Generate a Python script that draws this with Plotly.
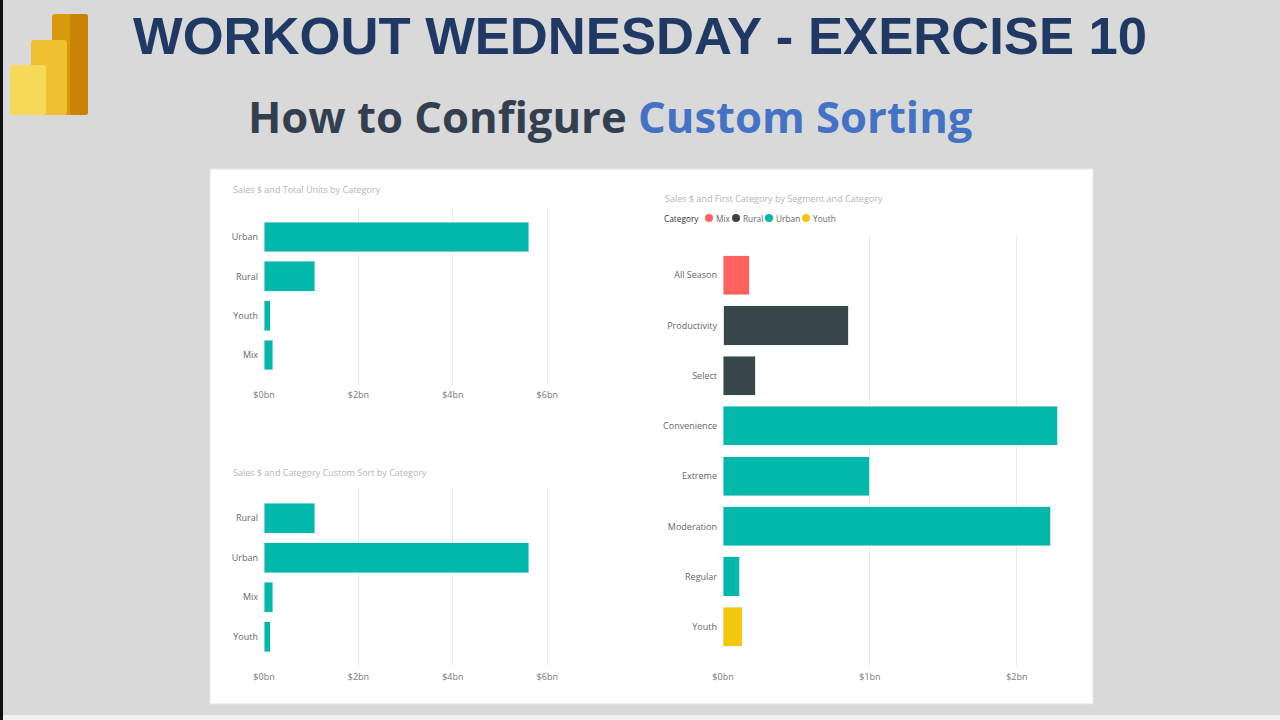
import plotly.graph_objects as go

# ---------------- data ----------------
cats_top = ["Urban", "Rural", "Youth", "Mix"]
sales_top = [5.61e9, 1.08e9, 0.13e9, 0.19e9]

cats_bottom = ["Rural", "Urban", "Mix", "Youth"]
sales_bottom = [1.08e9, 5.61e9, 0.19e9, 0.13e9]

segments = ["All Season", "Productivity", "Select", "Convenience",
            "Extreme", "Moderation", "Regular", "Youth"]
seg_mix = [0.177e9, 0.004e9, 0, 0, 0, 0, 0, 0]
seg_rural = [0, 0.853e9, 0.224e9, 0, 0, 0, 0, 0]
seg_urban = [0, 0, 0, 2.28e9, 1.00e9, 2.23e9, 0.115e9, 0]
seg_youth = [0, 0, 0, 0, 0, 0, 0, 0.13e9]

left_ticks = [0, 2e9, 4e9, 6e9]
left_ticktext = ["$0bn", "$2bn", "$4bn", "$6bn"]
right_ticks = [0, 1e9, 2e9]
right_ticktext = ["$0bn", "$1bn", "$2bn"]

legend_names = ["Mix", "Rural", "Urban", "Youth"]

# ---------------- style ----------------
W, H = 1280, 720
TEAL = "#01B8AA"
DARK = "#374649"
RED = "#FD625E"
YELLOW = "#F2C80F"
series_colors = [RED, DARK, TEAL, YELLOW]
BG = "#D9D9D9"
FONT = "Open Sans"
GRID = "#EBEBEB"


def px(x):
    return x / W


def py(y):
    return 1 - y / H


fig = go.Figure()

# top-left chart
fig.add_trace(go.Bar(y=cats_top, x=sales_top, orientation="h", marker_color=TEAL,
                     width=0.76, xaxis="x", yaxis="y", showlegend=False))
# bottom-left chart
fig.add_trace(go.Bar(y=cats_bottom, x=sales_bottom, orientation="h", marker_color=TEAL,
                     width=0.76, xaxis="x2", yaxis="y2", showlegend=False))
# right stacked chart
for name, vals, col in zip(legend_names, [seg_mix, seg_rural, seg_urban, seg_youth], series_colors):
    fig.add_trace(go.Bar(y=segments, x=vals, orientation="h", marker_color=col, name=name,
                         width=0.78, xaxis="x3", yaxis="y3", showlegend=False))

tickfont = dict(family=FONT, size=9, color="#777777")

xcommon = dict(showgrid=True, gridcolor=GRID, gridwidth=1, zeroline=False, showline=False,
               ticks="", tickfont=tickfont, fixedrange=True, automargin=False,
               ticklabelstandoff=3)
ycommon = dict(showgrid=False, zeroline=False, showline=False, ticks="", type="category",
               tickfont=dict(family=FONT, size=9, color="#666666"), ticklabelstandoff=5,
               automargin=False, fixedrange=True)

fig.update_layout(
    width=W, height=H,
    margin=dict(l=0, r=0, t=0, b=0, pad=0, autoexpand=False),
    paper_bgcolor=BG, plot_bgcolor="rgba(0,0,0,0)",
    barmode="stack",
    showlegend=False,
    xaxis=dict(xcommon, domain=[px(264), px(560)], range=[0, 6.27e9],
               tickvals=left_ticks, ticktext=left_ticktext, anchor="y"),
    yaxis=dict(ycommon, domain=[py(385), py(207)], range=[3.765, -0.765],
               categoryorder="array", categoryarray=cats_top, anchor="x"),
    xaxis2=dict(xcommon, domain=[px(264), px(560)], range=[0, 6.27e9],
                tickvals=left_ticks, ticktext=left_ticktext, anchor="y2"),
    yaxis2=dict(ycommon, domain=[py(667), py(488)], range=[3.765, -0.765],
                categoryorder="array", categoryarray=cats_bottom, anchor="x2"),
    xaxis3=dict(xcommon, domain=[px(723), px(1080)], range=[0, 2.43e9],
                tickvals=right_ticks, ticktext=right_ticktext, anchor="y3"),
    yaxis3=dict(ycommon, domain=[py(667), py(235)], range=[7.8, -0.8],
                categoryorder="array", categoryarray=segments, anchor="x3"),
)

shapes = []
# left dark border strip
shapes.append(dict(type="rect", xref="paper", yref="paper", x0=0, x1=px(3), y0=0, y1=1,
                   fillcolor="#111111", line_width=0, layer="below"))
# bottom light line
shapes.append(dict(type="rect", xref="paper", yref="paper", x0=px(3), x1=1, y0=py(720), y1=py(715),
                   fillcolor="#F2F2F2", line_width=0, layer="below"))
# white report panel
shapes.append(dict(type="rect", xref="paper", yref="paper", x0=px(210), x1=px(1093),
                   y0=py(704), y1=py(169), fillcolor="white", line=dict(color="#E6E6E6", width=1),
                   layer="below"))


# Power BI logo bars
def rounded(x0, y0, x1, y1, r=3):
    return (f"M{px(x0 + r)},{py(y0)} L{px(x1 - r)},{py(y0)} Q{px(x1)},{py(y0)} {px(x1)},{py(y0 + r)} "
            f"L{px(x1)},{py(y1 - r)} Q{px(x1)},{py(y1)} {px(x1 - r)},{py(y1)} "
            f"L{px(x0 + r)},{py(y1)} Q{px(x0)},{py(y1)} {px(x0)},{py(y1 - r)} "
            f"L{px(x0)},{py(y0 + r)} Q{px(x0)},{py(y0)} {px(x0 + r)},{py(y0)} Z")


shapes.append(dict(type="path", xref="paper", yref="paper", path=rounded(52, 14, 88, 115),
                   fillcolor="#D89A0C", line_width=0))
shapes.append(dict(type="path", xref="paper", yref="paper", path=rounded(70, 14, 88, 115),
                   fillcolor="#C98306", line_width=0))
shapes.append(dict(type="path", xref="paper", yref="paper", path=rounded(31, 40, 67, 115),
                   fillcolor="#EEC133", line_width=0))
shapes.append(dict(type="path", xref="paper", yref="paper", path=rounded(10, 65, 46, 115),
                   fillcolor="#F7D95A", line_width=0))

# legend markers (right chart)
legend_marker_x = [709, 736, 769, 806]
for cx, col in zip(legend_marker_x, series_colors):
    shapes.append(dict(type="circle", xref="paper", yref="paper",
                       x0=px(cx - 4), x1=px(cx + 4), y0=py(222), y1=py(214),
                       fillcolor=col, line_width=0))

fig.update_layout(shapes=shapes)

ann = []
ann.append(dict(text="<b>WORKOUT WEDNESDAY - EXERCISE 10</b>", x=px(640), y=py(35),
                xanchor="center", yanchor="middle",
                xref="paper", yref="paper", showarrow=False,
                font=dict(family="Liberation Sans", size=52.6, color="#1F3864")))
ann.append(dict(text="<b>How to Configure <span style='color:#4472C4'>Custom Sorting</span></b>",
                x=px(610), y=py(116), xanchor="center", yanchor="middle",
                xref="paper", yref="paper", showarrow=False,
                font=dict(family=FONT, size=43.6, color="#333F4F")))

title_font = dict(family=FONT, size=9, color="#B5B5B5")
ann.append(dict(text="Sales $ and Total Units by Category", x=px(231), y=py(190),
                xanchor="left", yanchor="middle", xref="paper", yref="paper", showarrow=False,
                font=title_font))
ann.append(dict(text="Sales $ and Category Custom Sort by Category", x=px(231), y=py(472),
                xanchor="left", yanchor="middle", xref="paper", yref="paper", showarrow=False,
                font=title_font))
ann.append(dict(text="Sales $ and First Category by Segment and Category", x=px(663), y=py(198),
                xanchor="left", yanchor="middle", xref="paper", yref="paper", showarrow=False,
                font=title_font))
ann.append(dict(text="Category", x=px(662), y=py(218), xanchor="left", yanchor="middle",
                xref="paper", yref="paper", showarrow=False,
                font=dict(family=FONT, size=8.3, color="#333333")))
for cx, name in zip(legend_marker_x, legend_names):
    ann.append(dict(text=name, x=px(cx + 5), y=py(218), xanchor="left", yanchor="middle",
                    xref="paper", yref="paper", showarrow=False,
                    font=dict(family=FONT, size=8.3, color="#666666")))

fig.update_layout(annotations=ann)

fig.write_html("out.html", config={"displayModeBar": False},
               post_script="document.body.style.margin='0';document.body.style.overflow='hidden';")
